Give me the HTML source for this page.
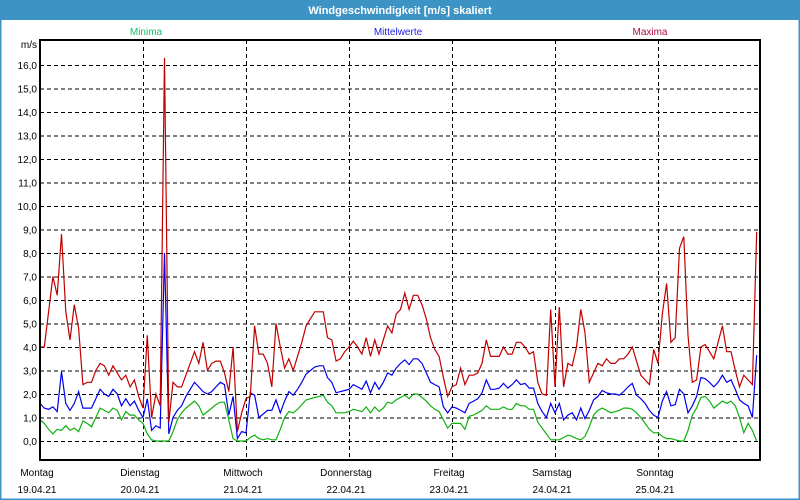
<!DOCTYPE html>
<html><head><meta charset="utf-8"><style>
html,body{margin:0;padding:0;background:#fff;}
#wrap{position:relative;width:800px;height:500px;overflow:hidden;}
svg text{font-family:"Liberation Sans","DejaVu Sans",sans-serif;}
</style></head><body>
<div id="wrap">
<svg id="chart" width="800" height="500" viewBox="0 0 800 500">
  <rect x="0" y="0" width="800" height="500" fill="#ffffff"/>
  <rect x="0" y="0" width="800" height="20" fill="#3d93c4"/>
  <rect x="0.5" y="0.5" width="799" height="499" fill="none" stroke="#3d93c4" stroke-width="2"/>
  <text x="400" y="14" text-anchor="middle" fill="#ffffff" font-size="11" font-weight="bold">Windgeschwindigkeit [m/s] skaliert</text>
  <text x="146" y="35" text-anchor="middle" fill="#10c060" font-size="10">Minima</text>
  <text x="398" y="35" text-anchor="middle" fill="#2020e0" font-size="10">Mittelwerte</text>
  <text x="650" y="35" text-anchor="middle" fill="#b01040" font-size="10">Maxima</text>
  <text x="37" y="48" text-anchor="end" fill="#000" font-size="10">m/s</text>
  <g id="grid"></g>
  <g id="series"></g>
  <rect x="40" y="40" width="720" height="420" fill="none" stroke="#000" stroke-width="2"/>
  <g id="labels"></g>
</svg>
</div>
<script>
const yTicks = [0,1,2,3,4,5,6,7,8,9,10,11,12,13,14,15,16];
const dayNames = ["Montag","Dienstag","Mittwoch","Donnerstag","Freitag","Samstag","Sonntag"];
const dayDates = ["19.04.21","20.04.21","21.04.21","22.04.21","23.04.21","24.04.21","25.04.21"];
const maxima = [4.0,4.0,5.5,7.0,6.2,8.8,5.5,4.3,5.8,4.8,2.4,2.5,2.5,3.0,3.3,3.2,2.8,3.2,2.9,2.6,2.8,2.3,2.6,1.9,1.4,4.5,1.0,2.0,1.5,16.3,0.8,2.5,2.3,2.3,2.8,3.3,3.8,3.3,4.2,3.0,3.3,3.4,3.4,2.9,2.1,4.0,0.4,1.2,1.8,1.9,4.9,3.7,3.7,3.3,2.3,5.0,4.0,3.1,3.5,3.0,3.6,4.2,4.9,5.2,5.5,5.5,5.5,4.4,4.3,3.4,3.5,3.8,4.0,4.25,4.0,3.7,4.4,3.6,4.3,3.7,4.3,4.9,4.6,5.4,5.6,6.3,5.6,6.2,6.2,5.8,5.2,4.4,3.9,3.6,2.7,1.9,2.3,2.4,3.1,2.4,2.8,2.8,2.9,3.3,4.3,3.6,3.6,3.6,4.0,3.7,3.7,4.2,4.2,4.0,3.7,3.8,2.5,2.0,1.95,5.6,2.3,5.7,2.3,3.3,3.2,4.0,5.6,4.6,2.5,2.9,3.3,3.2,3.5,3.3,3.3,3.5,3.5,3.7,4.0,3.4,2.8,2.6,2.4,3.9,3.3,5.4,6.7,4.2,4.4,8.2,8.7,4.5,2.5,2.6,4.0,4.1,3.8,3.5,4.2,4.9,3.8,3.8,3.0,2.3,2.8,2.6,2.4,8.9];
const mittel = [1.6,1.4,1.35,1.45,1.25,2.95,1.6,1.3,1.6,2.1,1.4,1.4,1.4,1.8,2.2,2.0,1.9,2.2,2.0,1.5,1.8,1.5,1.7,1.3,1.0,1.8,0.45,0.65,0.55,8.0,0.3,1.0,1.3,1.5,1.9,2.2,2.5,2.3,2.1,2.0,2.1,2.3,2.5,2.4,1.1,1.9,0.1,0.4,0.35,2.05,1.95,1.0,1.15,1.3,1.3,1.75,1.2,1.7,2.1,1.95,2.2,2.5,2.85,3.0,3.15,3.2,3.2,2.7,2.5,2.05,2.1,2.15,2.2,2.4,2.3,2.2,2.55,2.05,2.5,2.2,2.5,2.9,2.8,3.1,3.3,3.45,3.25,3.5,3.5,3.3,2.9,2.5,2.4,2.3,1.45,1.2,1.45,1.4,1.3,1.2,1.6,1.7,1.8,2.05,2.6,2.2,2.2,2.25,2.45,2.25,2.4,2.6,2.4,2.45,2.25,2.25,1.6,1.25,1.0,1.6,1.2,1.6,0.9,1.1,1.2,0.9,1.4,0.95,1.3,1.75,1.9,2.15,2.05,2.0,2.0,1.95,2.1,2.3,2.45,1.95,1.8,1.6,1.3,1.1,1.0,1.7,2.1,1.5,1.55,2.2,2.0,1.2,1.5,1.9,2.7,2.65,2.5,2.3,2.5,2.8,2.5,2.6,2.2,1.75,1.6,1.5,1.0,3.65];
const minima = [0.9,0.75,0.5,0.3,0.5,0.45,0.65,0.45,0.55,0.4,0.85,0.75,0.6,1.0,1.4,1.3,1.2,1.4,1.3,0.9,1.25,1.1,1.1,0.9,0.75,0.3,0.05,0,0,0,0,0.4,0.9,1.2,1.4,1.55,1.7,1.5,1.1,1.25,1.4,1.55,1.65,1.65,0.9,0.1,0,0,0,0.15,0.25,0.1,0.05,0.1,0.05,0.05,0.5,1.0,1.25,1.2,1.35,1.55,1.75,1.8,1.85,1.9,1.95,1.65,1.5,1.2,1.2,1.2,1.25,1.35,1.3,1.25,1.45,1.2,1.45,1.25,1.4,1.65,1.6,1.75,1.85,1.95,1.8,2.0,2.0,1.85,1.7,1.5,1.35,1.25,0.9,0.55,0.75,0.75,0.75,0.5,1.05,1.1,1.2,1.3,1.5,1.35,1.35,1.35,1.45,1.35,1.35,1.6,1.5,1.5,1.35,1.35,0.8,0.55,0.3,0.05,0.05,0.05,0.15,0.25,0.2,0.1,0.05,0.2,0.6,1.1,1.3,1.4,1.3,1.2,1.25,1.3,1.4,1.4,1.35,1.2,1.0,0.75,0.5,0.35,0.35,0.2,0.1,0.1,0.05,0,0,0.45,1.1,1.4,1.85,1.9,1.7,1.4,1.55,1.7,1.6,1.7,1.5,1.0,0.35,0.75,0.45,0.0];

const NS = "http://www.w3.org/2000/svg";
const plotL = 40, plotR = 760, hoursPerDay = 24;
const dayW = 103;
function yScale(v){ return 441 - v * 23.5; }
function xScale(i){ return plotL + i * (dayW / hoursPerDay); }
function xDay(d){ return plotL + d * dayW; }

const grid = document.getElementById('grid');
const labels = document.getElementById('labels');
const series = document.getElementById('series');

yTicks.forEach(function(t){
  const y = yScale(t);
  const ln = document.createElementNS(NS,'line');
  ln.setAttribute('x1', plotL); ln.setAttribute('x2', plotR);
  ln.setAttribute('y1', y + 0.5); ln.setAttribute('y2', y + 0.5);
  ln.setAttribute('stroke', '#000'); ln.setAttribute('stroke-dasharray', '4,3');
  
  
  grid.appendChild(ln);
  const tx = document.createElementNS(NS,'text');
  tx.setAttribute('x', 37); tx.setAttribute('y', y + 4);
  tx.setAttribute('text-anchor', 'end'); tx.setAttribute('font-size', '10');
  tx.textContent = t.toFixed(1).replace('.', ',');
  
  
  labels.appendChild(tx);
});

dayNames.forEach(function(name, d){
  const x = xDay(d);
  if (d > 0) {
    const ln = document.createElementNS(NS,'line');
    ln.setAttribute('x1', x + 0.5); ln.setAttribute('x2', x + 0.5);
    ln.setAttribute('y1', 40); ln.setAttribute('y2', 460);
    ln.setAttribute('stroke', '#000'); ln.setAttribute('stroke-dasharray', '4,3');
    
    
    grid.appendChild(ln);
  }
  const cx = x - 3;
  const t1 = document.createElementNS(NS,'text');
  t1.setAttribute('x', cx); t1.setAttribute('y', 476);
  t1.setAttribute('text-anchor', 'middle'); t1.setAttribute('font-size', '10');
  t1.textContent = name;
  
  
  labels.appendChild(t1);
  const t2 = document.createElementNS(NS,'text');
  t2.setAttribute('x', cx); t2.setAttribute('y', 493);
  t2.setAttribute('text-anchor', 'middle'); t2.setAttribute('font-size', '10');
  t2.textContent = dayDates[d];
  
  
  labels.appendChild(t2);
});

function drawLine(vals, color, name){
  const pts = vals.map(function(v, i){ return xScale(i).toFixed(1) + ',' + yScale(v).toFixed(1); }).join(' ');
  const pl = document.createElementNS(NS,'polyline');
  pl.setAttribute('points', pts);
  pl.setAttribute('fill', 'none');
  pl.setAttribute('stroke', color);
  pl.setAttribute('stroke-width', '1.2');
  
  
  series.appendChild(pl);
}
drawLine(minima, '#10b010', 'minima-line');
drawLine(mittel, '#0000f0', 'mittelwerte-line');
drawLine(maxima, '#c00000', 'maxima-line');
</script>
</body></html>
